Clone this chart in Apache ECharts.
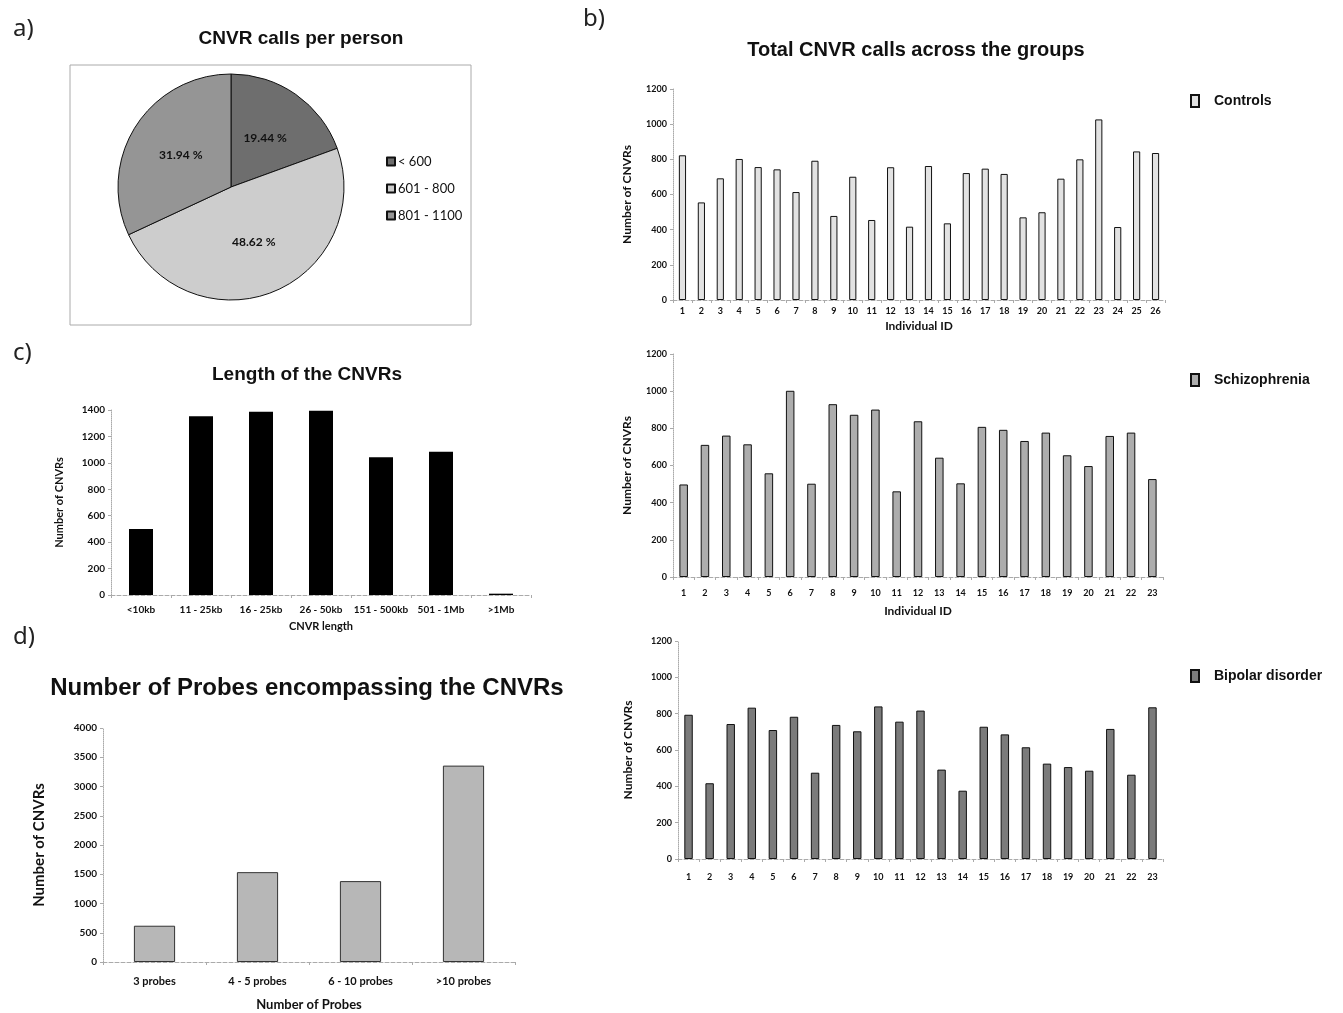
<!DOCTYPE html>
<html>
<head>
<meta charset="utf-8">
<script src="https://cdn.jsdelivr.net/npm/echarts@6/dist/echarts.min.js"></script>
<style>
  html, body { margin: 0; padding: 0; background: #fff; }
  #main { width: 1343px; height: 1013px; }
</style>
</head>
<body>
<div id="main"></div>
<script>
// NOTE - a) pie
const pieLabels = ['< 600', '601 - 800', '801 - 1100']
const piePercents = [19.44, 48.62, 31.94]

// NOTE - c) length of CNVRs
const lengthCats = ['<10kb', '11 - 25kb', '16 - 25kb', '26 - 50kb', '151 - 500kb', '501 - 1Mb', '>1Mb']
const lengthVals = [500, 1352, 1387, 1395, 1042, 1085, 10]

// NOTE - d) number of probes
const probeCats = ['3 probes', '4 - 5 probes', '6 - 10 probes', '>10 probes']
const probeVals = [620, 1536, 1383, 3357]

// NOTE - b) per-individual counts
const controlIds = ['1', '2', '3', '4', '5', '6', '7', '8', '9', '10', '11', '12', '13',
    '14', '15', '16', '17', '18', '19', '20', '21', '22', '23', '24', '25', '26']
const controlVals = [823, 555, 692, 802, 756, 743, 614, 792, 478, 701, 455, 755, 417,
    762, 436, 722, 747, 717, 470, 499, 690, 800, 1027, 415, 845, 836]
const schizoIds = ['1', '2', '3', '4', '5', '6', '7', '8', '9', '10', '11', '12',
    '13', '14', '15', '16', '17', '18', '19', '20', '21', '22', '23']
const schizoVals = [498, 711, 761, 714, 558, 1002, 502, 930, 873, 901, 461, 838,
    642, 504, 808, 792, 732, 777, 655, 597, 759, 777, 527]
const bipolarIds = schizoIds
const bipolarVals = [794, 417, 743, 833, 710, 783, 475, 738, 703, 840, 756, 817,
    492, 376, 728, 686, 615, 525, 506, 486, 716, 464, 835]

const tickFont = 'Lato, "DejaVu Sans", sans-serif'
const headFont = '"Liberation Sans", Arial, sans-serif'

const myChart = echarts.init(document.querySelector('#main'))

// 通用坐标轴样式
const catAxis = (gridIndex, data, fontSize, margin, name, nameGap, nameSize) => ({
    type: 'category',
    gridIndex,
    data,
    name,
    nameLocation: 'middle',
    nameGap,
    nameTextStyle: { fontFamily: tickFont, fontWeight: 'bold', fontSize: nameSize, color: '#111' },
    axisLine: { lineStyle: { color: '#aaa', type: 'dashed', width: 1 } },
    axisTick: { show: true, length: 3, lineStyle: { color: '#aaa' } },
    axisLabel: { interval: 0, fontFamily: tickFont, fontWeight: 'bold', fontSize, color: '#111', margin }
})
const valAxis = (gridIndex, max, interval, fontSize, nameGap, nameSize) => ({
    type: 'value',
    gridIndex,
    min: 0,
    max,
    interval,
    name: 'Number of CNVRs',
    nameLocation: 'middle',
    nameRotate: 90,
    nameGap,
    nameTextStyle: { fontFamily: tickFont, fontWeight: 'bold', fontSize: nameSize, color: '#111' },
    axisLine: { show: true, lineStyle: { color: '#aaa', type: 'dotted' } },
    axisTick: { show: true, length: 3, lineStyle: { color: '#aaa' } },
    axisLabel: { fontFamily: tickFont, fontWeight: 'bold', fontSize, color: '#111', margin: 6,
        formatter: v => String(v) },
    splitLine: { show: false }
})

const option = {
    backgroundColor: '#fff',
    animation: false,
    title: [
        { text: 'a)', left: 8, top: 12, textStyle: { fontFamily: '"Noto Sans"', fontWeight: 'normal', fontSize: 24, color: '#222' } },
        { text: 'b)', left: 578, top: 2, textStyle: { fontFamily: '"Noto Sans"', fontWeight: 'normal', fontSize: 24, color: '#222' } },
        { text: 'c)', left: 8, top: 336, textStyle: { fontFamily: '"Noto Sans"', fontWeight: 'normal', fontSize: 24, color: '#222' } },
        { text: 'd)', left: 8, top: 620, textStyle: { fontFamily: '"Noto Sans"', fontWeight: 'normal', fontSize: 24, color: '#222' } },
        { text: 'CNVR calls per person', left: 296, top: 24, textAlign: 'center',
            textStyle: { fontFamily: headFont, fontWeight: 'bold', fontSize: 19, color: '#111' } },
        { text: 'Total CNVR calls across the groups', left: 911, top: 35, textAlign: 'center',
            textStyle: { fontFamily: headFont, fontWeight: 'bold', fontSize: 20, color: '#111' } },
        { text: 'Length of the CNVRs', left: 302, top: 360, textAlign: 'center',
            textStyle: { fontFamily: headFont, fontWeight: 'bold', fontSize: 19, color: '#111' } },
        { text: 'Number of Probes encompassing the CNVRs', left: 302, top: 671, textAlign: 'center',
            textStyle: { fontFamily: headFont, fontWeight: 'bold', fontSize: 24, color: '#111' } }
    ],
    graphic: [
        { type: 'rect', shape: { x: 70, y: 65, width: 401, height: 260 },
            style: { fill: 'none', stroke: '#aaa', lineWidth: 1 }, silent: true }
    ],
    legend: [
        {
            data: pieLabels, orient: 'vertical', left: 381, top: 150, itemGap: 14,
            itemWidth: 8, itemHeight: 8, icon: 'rect', selectedMode: false,
            textStyle: { fontFamily: tickFont, fontSize: 13, color: '#111', padding: [0, 0, 0, -2] }
        },
        {
            data: ['Controls'], left: 1185, top: 89, itemWidth: 8, itemHeight: 12, icon: 'rect',
            itemGap: 0, selectedMode: false, textStyle: { fontFamily: headFont, fontWeight: 'bold', fontSize: 14, color: '#111', padding: [0, 0, 0, 10] }
        },
        {
            data: ['Schizophrenia'], left: 1185, top: 368, itemWidth: 8, itemHeight: 12, icon: 'rect',
            itemGap: 0, selectedMode: false, textStyle: { fontFamily: headFont, fontWeight: 'bold', fontSize: 14, color: '#111', padding: [0, 0, 0, 10] }
        },
        {
            data: ['Bipolar disorder'], left: 1185, top: 664, itemWidth: 8, itemHeight: 12, icon: 'rect',
            itemGap: 0, selectedMode: false, textStyle: { fontFamily: headFont, fontWeight: 'bold', fontSize: 14, color: '#111', padding: [0, 0, 0, 10] }
        }
    ],
    grid: [
        { left: 111, top: 410, width: 420, height: 185 },   // c
        { left: 103, top: 728, width: 412, height: 234 },   // d
        { left: 673, top: 89, width: 492, height: 211 },    // controls
        { left: 673, top: 354, width: 490, height: 223 },   // schizophrenia
        { left: 678, top: 641, width: 485, height: 218 }    // bipolar
    ],
    xAxis: [
        catAxis(0, lengthCats, 10, 10, 'CNVR length', 26, 11),
        catAxis(1, probeCats, 11, 14, 'Number of Probes', 36, 13),
        catAxis(2, controlIds, 9, 7, 'Individual ID', 20, 12),
        catAxis(3, schizoIds, 9, 12, 'Individual ID', 28, 12),
        catAxis(4, bipolarIds, 9, 14, '', 20, 11)
    ],
    yAxis: [
        valAxis(0, 1400, 200, 10, 46, 11),
        valAxis(1, 4000, 500, 10, 56, 15),
        valAxis(2, 1200, 200, 9, 40, 12),
        valAxis(3, 1200, 200, 9, 40, 12),
        valAxis(4, 1200, 200, 9, 44, 12)
    ],
    series: [
        {
            name: 'CNVR calls per person',
            type: 'pie',
            center: [231, 187],
            radius: 113,
            startAngle: 90,
            clockwise: true,
            label: {
                show: true,
                position: 'inside',
                formatter: '{c} %',
                fontFamily: tickFont,
                fontWeight: 'bold',
                fontSize: 12,
                color: '#111'
            },
            labelLine: { show: false },
            itemStyle: { borderColor: '#111', borderWidth: 1 },
            emphasis: { disabled: true },
            data: piePercents.map((v, i) => ({
                value: v,
                name: pieLabels[i],
                itemStyle: { color: ['#6e6e6e', '#cdcdcd', '#959595'][i] }
            }))
        },
        {
            type: 'bar', xAxisIndex: 0, yAxisIndex: 0, data: lengthVals,
            barWidth: '40%', itemStyle: { color: '#000' }
        },
        {
            type: 'bar', xAxisIndex: 1, yAxisIndex: 1, data: probeVals,
            barWidth: '40%', itemStyle: { color: '#b7b7b7', borderColor: '#333', borderWidth: 1 }
        },
        {
            name: 'Controls', type: 'bar', xAxisIndex: 2, yAxisIndex: 2, data: controlVals,
            barWidth: '38%', itemStyle: { color: '#e2e2e2', borderColor: '#111', borderWidth: 1 }
        },
        {
            name: 'Schizophrenia', type: 'bar', xAxisIndex: 3, yAxisIndex: 3, data: schizoVals,
            barWidth: '40%', itemStyle: { color: '#adadad', borderColor: '#111', borderWidth: 1 }
        },
        {
            name: 'Bipolar disorder', type: 'bar', xAxisIndex: 4, yAxisIndex: 4, data: bipolarVals,
            barWidth: '40%', itemStyle: { color: '#7b7b7b', borderColor: '#111', borderWidth: 1 }
        }
    ]
}

myChart.setOption(option)
</script>
</body>
</html>
